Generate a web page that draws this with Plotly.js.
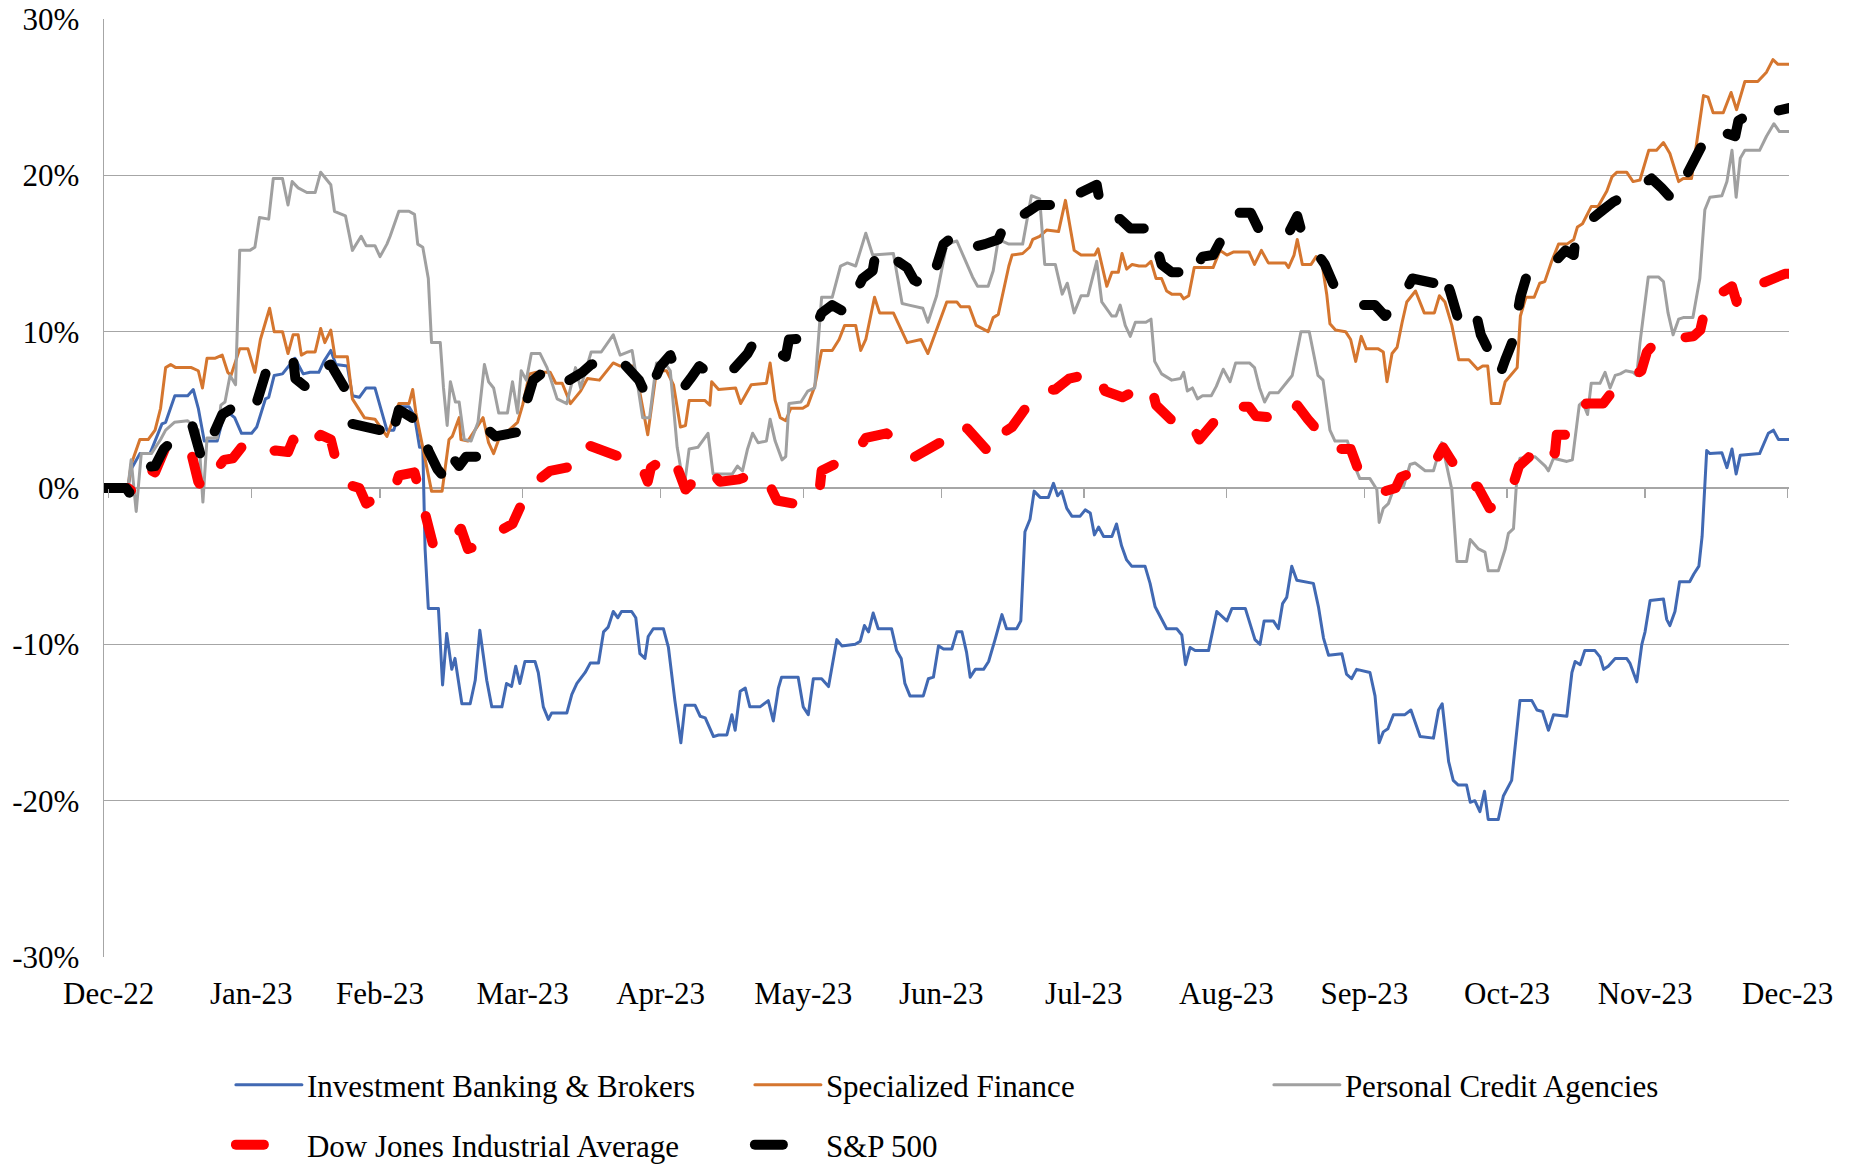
<!DOCTYPE html>
<html>
<head>
<meta charset="utf-8">
<script src="https://cdn.plot.ly/plotly-3.0.1.min.js"></script>
<style>
  html, body { margin: 0; padding: 0; background: #ffffff; }
  #chart { width: 1854px; height: 1164px; }
  .js-line { stroke-linecap: round; stroke-linejoin: round; }
</style>
</head>
<body>
<div id="chart"></div>
<script>
// ---- Data: [day offset from 30-Dec-2022, cumulative return %] ----
const IBB = [[0,0],[5.2,0],[5.9,1.2],[7.8,2.2],[10.0,2.2],[11.1,3.0],[12.6,4.1],[13.4,4.2],[15.4,5.9],[18.2,5.9],[19.4,6.3],[20.5,5.1],[21.8,3.0],[24.6,3.0],[26.1,4.7],[27.6,4.7],[28.4,4.5],[29.9,3.5],[32.1,3.5],[33.2,3.9],[35.1,5.7],[35.8,5.8],[37.0,7.2],[38.8,7.3],[41.5,8.3],[43.3,7.3],[44.8,7.4],[46.7,7.4],[47.8,8.1],[49.3,8.8],[50.4,7.9],[52.9,7.8],[54.0,5.9],[55.5,5.8],[57.0,6.4],[58.9,6.4],[61.5,3.7],[63.0,3.7],[64.5,5.2],[66.3,5.2],[67.5,4.6],[68.6,2.6],[69.3,2.6],[69.8,-3.9],[70.5,-7.7],[72.7,-7.7],[73.6,-12.6],[74.5,-9.3],[75.6,-11.6],[76.3,-10.9],[77.8,-13.8],[79.6,-13.8],[80.7,-12.3],[81.7,-9.1],[83.2,-12.3],[84.3,-14.0],[86.5,-14.0],[87.5,-12.5],[88.6,-12.7],[89.5,-11.4],[90.4,-12.5],[91.5,-11.1],[93.7,-11.1],[94.4,-11.8],[95.5,-14.0],[96.6,-14.8],[97.3,-14.4],[100.6,-14.4],[101.7,-13.2],[102.8,-12.5],[104.6,-11.8],[105.7,-11.2],[107.5,-11.2],[108.6,-9.2],[109.6,-8.9],[110.7,-7.9],[111.7,-8.3],[112.5,-7.9],[114.7,-7.9],[115.6,-8.3],[116.5,-10.6],[117.6,-10.9],[118.3,-9.5],[119.4,-9.0],[121.6,-9.0],[122.7,-10.2],[124.1,-13.6],[125.4,-16.3],[126.3,-13.9],[128.5,-13.9],[129.6,-14.6],[130.7,-14.7],[132.5,-15.9],[133.6,-15.8],[135.4,-15.8],[136.5,-14.5],[137.2,-15.5],[138.3,-13.0],[139.4,-12.8],[140.4,-14.0],[142.6,-14.0],[144.4,-13.6],[145.5,-14.9],[146.6,-12.8],[147.3,-12.1],[150.9,-12.1],[152.0,-14.0],[153.1,-14.5],[154.2,-12.2],[156.0,-12.2],[157.5,-12.7],[159.3,-9.7],[160.4,-10.1],[163.3,-10.0],[164.4,-9.8],[165.3,-8.8],[166.2,-9.2],[167.2,-8.0],[168.3,-9.0],[171.2,-9.0],[172.3,-10.4],[173.3,-10.9],[174.1,-12.5],[175.2,-13.3],[178.1,-13.3],[179.2,-12.2],[180.3,-12.1],[181.4,-10.1],[182.5,-10.3],[184.3,-10.3],[185.4,-9.2],[186.5,-9.2],[187.5,-10.5],[188.3,-12.1],[189.4,-11.6],[191.2,-11.6],[192.3,-11.1],[193.7,-9.7],[195.2,-8.1],[196.2,-9.0],[198.4,-9.0],[199.3,-8.5],[200.2,-2.8],[201.3,-2.0],[202.2,-0.2],[203.5,-0.6],[205.3,-0.6],[206.4,0.3],[207.3,-0.5],[208.2,-0.2],[209.3,-1.3],[210.4,-1.8],[212.2,-1.8],[213.3,-1.4],[214.4,-1.6],[215.3,-3.0],[216.2,-2.5],[217.3,-3.1],[219.1,-3.1],[220.1,-2.3],[221.2,-3.7],[222.3,-4.6],[223.4,-5.0],[226.3,-5.0],[227.4,-6.1],[228.5,-7.6],[231.0,-9.0],[233.2,-9.0],[234.3,-9.4],[235.1,-11.3],[236.1,-10.2],[237.2,-10.4],[240.1,-10.4],[241.9,-7.9],[244.1,-8.5],[245.2,-7.7],[248.1,-7.7],[250.2,-9.7],[251.3,-10.0],[252.2,-8.5],[254.2,-8.5],[255.3,-9.0],[256.2,-7.4],[257.1,-7.0],[258.2,-5.0],[259.3,-5.9],[262.9,-6.1],[264.0,-7.6],[265.1,-9.6],[266.2,-10.7],[269.1,-10.6],[270.1,-11.9],[271.2,-12.2],[272.3,-11.6],[275.2,-11.8],[276.3,-13.3],[277.2,-16.3],[278.1,-15.6],[279.1,-15.4],[280.3,-14.5],[282.8,-14.5],[284.1,-14.2],[286.1,-15.9],[289.0,-16.0],[290.1,-14.2],[290.9,-13.8],[292.3,-17.5],[293.3,-18.7],[294.4,-19.0],[296.2,-19.0],[297.0,-20.1],[298.0,-20.0],[299.1,-20.7],[300.1,-19.4],[300.9,-21.2],[303.1,-21.2],[304.2,-19.7],[306.0,-18.7],[307.8,-13.6],[310.4,-13.6],[311.5,-14.2],[312.7,-14.3],[314.0,-15.5],[315.1,-14.5],[318.0,-14.6],[319.1,-11.8],[319.8,-11.1],[320.9,-11.3],[321.9,-10.4],[324.1,-10.4],[325.2,-10.8],[326.0,-11.6],[327.0,-11.4],[328.5,-10.9],[331.0,-10.9],[331.7,-11.2],[333.2,-12.4],[334.3,-10.0],[335.0,-9.2],[336.1,-7.2],[339.0,-7.1],[339.7,-8.4],[340.4,-8.8],[341.5,-7.9],[342.5,-6.0],[344.7,-6.0],[345.6,-5.5],[346.7,-5.0],[347.4,-3.1],[348.4,2.4],[349.1,2.2],[351.7,2.25],[352.8,1.3],[353.9,2.5],[354.8,0.9],[355.7,2.1],[359.9,2.2],[361.8,3.5],[362.9,3.7],[364.0,3.1],[366.2,3.1]];

const SPF = [[0,0],[5.2,0],[5.9,1.5],[7.8,3.1],[9.6,3.1],[11.1,3.7],[12.3,5.1],[13.4,7.7],[14.5,7.9],[15.6,7.7],[19.0,7.7],[20.5,7.5],[21.4,6.4],[22.4,8.3],[24.2,8.3],[25.7,8.5],[26.9,7.4],[27.6,7.2],[29.5,8.9],[31.3,8.9],[32.8,7.4],[34.0,9.5],[36.0,11.5],[37.0,10.0],[38.8,10.0],[40.0,8.6],[41.1,9.8],[42.2,9.8],[42.9,8.5],[44.1,8.7],[45.9,8.7],[47.1,10.2],[48.0,9.3],[49.3,10.1],[50.2,8.4],[52.9,8.4],[54.0,5.7],[56.6,4.5],[58.9,4.4],[61.5,3.3],[64.1,5.4],[66.3,5.4],[67.1,6.3],[67.8,4.8],[71.2,-0.2],[73.5,-0.2],[75.0,3.1],[75.7,3.3],[77.2,4.5],[77.6,3.1],[79.1,3.0],[82.4,4.5],[83.6,2.9],[84.7,2.2],[85.8,3.1],[89.9,4.2],[91.0,5.3],[92.5,7.3],[94.0,7.4],[97.0,7.4],[98.2,6.7],[99.6,6.7],[101.4,5.4],[103.6,6.2],[105.1,7.0],[107.7,6.9],[110.7,8.0],[112.2,7.8],[114.8,7.8],[116.3,6.4],[118.2,3.4],[120.1,7.5],[122.3,7.5],[123.8,6.6],[125.3,3.9],[126.4,4.0],[127.2,5.6],[130.6,5.6],[131.7,5.3],[132.1,6.8],[133.6,6.3],[137.3,6.4],[138.4,5.4],[140.7,6.6],[144.0,6.7],[144.8,8.0],[145.9,5.6],[147.0,4.5],[148.2,4.3],[149.3,5.1],[151.9,5.1],[153.0,5.3],[154.5,6.5],[156.0,8.8],[158.3,8.8],[159.8,9.5],[161.0,10.4],[163.4,10.4],[164.5,8.8],[165.6,9.5],[167.5,12.2],[168.6,11.2],[171.6,11.2],[174.6,9.3],[177.6,9.5],[179.1,8.6],[181.7,10.7],[183.2,11.9],[185.4,11.9],[186.2,11.6],[188.1,11.6],[189.6,10.4],[192.2,10.0],[193.3,10.9],[194.4,11.1],[196.7,14.2],[197.4,14.9],[199.7,15.0],[201.2,15.4],[201.9,15.9],[203.4,16.1],[204.9,16.5],[207.5,16.4],[209.0,18.4],[210.9,15.2],[212.4,14.9],[215.4,14.9],[216.1,15.3],[218.0,12.9],[219.1,13.8],[220.5,13.8],[221.3,15.0],[222.3,14.0],[223.5,14.3],[225.0,14.2],[226.5,14.2],[227.6,14.5],[228.7,13.4],[229.9,13.4],[231.0,12.6],[232.1,12.4],[234.0,12.4],[234.7,12.1],[235.8,12.3],[237.0,14.1],[241.1,14.1],[242.6,15.2],[244.1,14.9],[245.6,15.1],[248.9,15.1],[250.1,14.3],[251.6,15.2],[253.1,14.4],[256.8,14.4],[257.5,14.1],[258.7,14.9],[259.4,15.9],[260.5,14.3],[262.4,14.3],[263.5,14.8],[264.7,14.5],[265.8,12.4],[266.5,10.5],[267.7,10.1],[269.9,10.0],[271.0,9.5],[272.1,8.1],[273.3,9.7],[274.4,8.9],[277.0,8.9],[278.1,8.7],[278.9,6.8],[280.0,8.6],[281.1,9.0],[282.2,10.6],[283.2,11.9],[285.1,12.6],[287.0,11.2],[289.2,11.2],[290.3,12.3],[291.5,11.9],[293.0,10.4],[294.5,8.2],[296.7,8.2],[298.6,7.6],[299.7,7.8],[300.8,7.8],[301.6,5.4],[303.4,5.4],[304.6,6.8],[307.2,7.7],[307.9,11.0],[309.1,12.2],[310.9,12.2],[312.1,13.1],[313.2,13.2],[314.7,14.5],[316.2,15.6],[318.0,15.6],[319.5,15.9],[320.3,16.7],[321.4,16.9],[323.3,18.0],[324.8,18.0],[326.7,19.0],[327.8,19.9],[328.9,20.2],[331.0,20.2],[332.4,19.6],[333.9,19.7],[335.8,21.6],[337.5,21.6],[339.0,22.1],[340.4,21.4],[342.3,19.6],[343.3,19.8],[345.1,19.8],[346.6,23.0],[347.7,25.1],[348.7,25.0],[349.8,24.0],[352.0,24.0],[353.7,25.3],[354.9,24.2],[356.7,26.0],[359.5,26.0],[361.4,26.6],[362.8,27.4],[363.9,27.1],[366.2,27.1]];

const PCA = [[0,0],[5.2,0],[5.9,1.8],[7.0,-1.5],[8.1,2.2],[10.3,2.2],[12.3,3.1],[13.4,3.7],[15.3,4.2],[18.2,4.3],[20.5,3.7],[21.5,-0.9],[22.4,3.2],[24.6,3.2],[25.4,5.3],[26.3,5.5],[27.4,7.2],[28.6,6.6],[29.5,15.2],[31.7,15.2],[32.8,15.4],[33.8,17.3],[35.8,17.2],[36.8,19.8],[38.8,19.8],[40.0,18.1],[40.9,19.6],[42.2,19.2],[44.1,18.9],[45.9,18.9],[47.1,20.2],[49.3,19.4],[50.1,17.7],[52.5,17.4],[54.0,15.2],[55.9,16.1],[57.0,15.5],[58.9,15.5],[60.0,14.8],[61.5,15.6],[62.2,16.1],[64.1,17.7],[66.3,17.7],[67.5,17.5],[68.2,15.6],[69.3,15.4],[70.5,13.4],[71.2,9.3],[73.1,9.3],[73.8,6.4],[74.6,4.0],[75.3,6.8],[76.4,5.5],[77.2,5.5],[78.3,3.1],[79.8,3.0],[81.3,4.2],[82.7,7.9],[83.6,6.8],[84.7,6.4],[85.8,4.8],[87.7,4.8],[88.8,6.8],[89.9,4.8],[90.7,7.5],[91.8,6.9],[92.9,8.6],[94.8,8.6],[96.3,7.7],[98.5,5.7],[100.6,5.4],[102.5,7.7],[103.6,6.4],[105.9,8.7],[108.1,8.7],[110.7,9.8],[112.2,8.5],[114.8,8.8],[115.9,6.8],[117.1,4.5],[118.6,4.5],[120.1,8.0],[121.9,8.0],[123.1,7.5],[124.6,2.6],[126.1,0.0],[127.2,2.5],[129.1,2.6],[131.3,3.5],[132.4,0.9],[136.6,0.9],[137.7,1.4],[138.8,1.1],[139.9,2.5],[141.0,3.5],[142.2,2.9],[144.0,3.0],[144.8,4.4],[145.9,3.0],[147.4,1.8],[148.2,2.0],[148.9,5.4],[151.5,5.5],[153.0,6.2],[154.5,6.4],[156.0,12.2],[158.3,12.2],[160.1,14.2],[161.6,14.4],[163.4,14.2],[165.6,16.3],[167.1,14.9],[171.6,15.0],[173.5,11.8],[175.0,11.7],[178.0,11.5],[179.1,10.6],[181.0,12.3],[183.2,15.6],[185.4,15.8],[188.8,13.5],[189.9,12.9],[192.2,12.9],[193.3,13.9],[194.4,15.9],[196.7,15.6],[199.7,15.6],[201.6,18.7],[203.4,18.5],[204.5,14.3],[206.8,14.3],[208.3,12.4],[209.4,13.1],[210.9,11.2],[212.4,12.3],[213.9,12.3],[215.8,14.5],[216.9,11.9],[219.1,11.0],[220.0,11.0],[220.9,11.7],[222.0,10.4],[223.1,9.7],[224.2,10.6],[226.5,10.6],[227.6,10.8],[228.4,8.1],[229.9,7.3],[232.1,6.9],[234.0,7.0],[234.7,7.4],[235.5,6.2],[236.6,6.4],[237.7,5.7],[238.8,5.9],[240.7,5.9],[241.8,6.5],[243.3,7.6],[244.8,6.8],[246.0,8.0],[249.0,8.0],[250.1,7.7],[251.2,6.4],[252.3,5.5],[253.4,6.1],[255.3,6.1],[257.2,6.8],[258.3,7.2],[260.2,10.0],[262.0,10.0],[263.9,7.2],[265.0,6.9],[266.5,3.7],[267.6,3.0],[270.3,3.0],[272.0,1.3],[273.0,0.6],[275.2,0.6],[276.7,-0.1],[277.2,-2.2],[278.1,-1.3],[279.2,-1.0],[280.3,-0.1],[282.5,0.1],[283.9,1.5],[285.0,1.6],[287.2,1.1],[289.0,1.1],[290.8,2.9],[293.0,-0.1],[294.1,-4.7],[296.2,-4.7],[297.0,-3.3],[298.8,-3.9],[300.2,-4.1],[300.9,-5.3],[303.1,-5.3],[304.6,-3.9],[305.3,-2.9],[306.4,-2.6],[307.1,0.5],[307.8,1.9],[311.1,2.0],[313.3,1.4],[314.0,1.1],[315.1,1.9],[318.0,1.7],[319.2,1.8],[320.7,5.3],[321.4,5.5],[322.5,4.7],[323.3,6.7],[325.2,6.7],[326.3,7.4],[327.4,6.4],[328.5,7.2],[329.6,7.3],[330.8,7.5],[332.4,7.4],[333.2,7.2],[333.9,9.3],[335.7,13.5],[337.9,13.5],[339.0,13.2],[340.0,11.2],[341.1,9.8],[342.3,10.8],[343.3,10.9],[345.4,10.9],[346.9,13.4],[348.0,17.8],[349.1,18.6],[351.7,18.7],[352.8,19.6],[353.9,21.6],[354.8,18.6],[355.7,21.1],[356.7,21.6],[359.9,21.6],[361.4,22.5],[363.0,23.3],[364.2,22.8],[366.2,22.8]];

const DJI = [[0,0],[5.2,0],[6.5,-0.3],[9.3,1.3],[11.1,1.0],[13.8,2.9],[16.5,2.8],[19.0,2.2],[20.5,0.4],[21.6,-0.1],[24.0,1.0],[26.1,1.8],[28.0,1.9],[29.9,2.6],[32.1,2.6],[32.5,2.2],[35.0,2.3],[37.3,2.4],[40.0,2.3],[41.1,3.1],[42.9,2.3],[45.0,2.8],[47.1,3.4],[49.3,3.1],[50.4,1.8],[53.3,0.2],[55.5,0.0],[57.0,-1.0],[60.0,-0.5],[63.0,-0.2],[64.1,0.8],[67.5,1.0],[70.1,-2.2],[71.6,-3.7],[74.2,-3.9],[77.6,-2.6],[79.1,-3.9],[81.3,-3.7],[83.2,-3.2],[85.8,-2.75],[88.8,-2.3],[92.5,0.1],[94.4,0.55],[97.0,1.1],[100.5,1.3],[103.6,1.7],[104.7,2.8],[108.5,2.3],[112.0,2.0],[116.3,1.8],[118.2,0.4],[118.9,1.3],[123.5,2.2],[126.4,-0.1],[131.3,1.3],[133.9,0.4],[138.0,0.55],[141.4,0.9],[143.7,0.8],[146.3,-0.8],[150.0,-1.0],[154.1,-0.8],[155.6,0.0],[156.0,1.1],[161.6,2.0],[163.4,2.2],[165.6,3.2],[170.1,3.5],[172.0,3.1],[173.5,2.4],[175.7,1.9],[181.7,2.9],[183.2,3.9],[187.7,3.8],[192.9,2.1],[194.8,3.4],[197.4,3.9],[203.0,6.2],[206.8,6.3],[209.8,7.0],[215.8,7.4],[217.6,6.2],[221.4,5.8],[223.5,6.2],[225.4,6.4],[227.6,6.6],[228.7,5.3],[234.7,3.6],[236.6,4.0],[238.1,3.1],[244.1,5.2],[248.9,5.2],[250.4,4.6],[257.9,4.4],[259.4,5.3],[261.7,4.4],[267.3,2.5],[271.0,2.5],[272.5,1.3],[278.5,-0.2],[280.8,0.0],[281.9,0.7],[283.7,0.9],[288.0,1.4],[289.6,1.8],[291.1,2.6],[292.6,1.9],[296.7,0.0],[298.6,0.1],[301.2,-1.3],[304.6,-0.7],[306.1,0.0],[307.6,1.4],[313.6,3.0],[315.4,2.2],[315.8,3.4],[318.0,3.4],[322.2,5.4],[325.9,5.4],[328.5,6.4],[334.2,7.5],[335.4,8.7],[337.5,9.4],[345.5,9.7],[347.0,10.1],[348.4,11.9],[353.9,12.9],[354.9,11.9],[355.3,12.7],[357.1,12.7],[365.4,13.7],[366.2,13.7]];

const SPX = [[0,0],[4.8,0],[5.5,-0.3],[7.8,1.3],[11.1,1.4],[13.0,2.5],[16.0,3.3],[19.0,4.2],[21.3,1.8],[24.2,3.6],[25.7,4.7],[28.4,5.2],[30.5,5.0],[32.5,4.8],[35.1,7.3],[36.6,7.8],[38.8,7.8],[41.1,8.3],[41.6,7.0],[43.7,6.5],[45.9,6.5],[47.4,7.7],[49.3,7.9],[51.0,7.0],[52.5,6.3],[54.0,4.1],[57.0,3.9],[60.0,3.7],[62.2,2.9],[64.1,5.0],[67.5,4.4],[69.3,4.1],[70.5,2.4],[72.5,1.2],[74.2,0.6],[75.3,2.1],[77.2,1.4],[78.7,2.0],[80.9,2.0],[82.8,3.9],[85.1,3.3],[88.0,3.5],[90.3,3.6],[90.7,4.4],[93.3,6.9],[95.9,7.5],[98.5,6.6],[100.0,6.7],[102.0,7.0],[104.0,7.4],[105.9,7.9],[108.1,8.0],[110.7,8.4],[113.5,7.8],[116.3,6.9],[118.2,5.7],[118.9,6.4],[121.0,7.8],[123.1,8.5],[125.7,6.3],[127.5,7.0],[129.4,7.8],[131.3,7.4],[132.8,7.8],[136.2,7.4],[138.0,8.0],[139.9,8.6],[141.4,9.4],[145.5,8.9],[148.2,8.4],[148.9,9.5],[153.8,9.6],[156.0,11.2],[158.3,11.7],[161.3,11.2],[163.0,12.3],[164.9,13.4],[167.1,13.9],[167.9,15.3],[171.0,14.8],[174.6,14.1],[176.1,13.3],[179.5,12.8],[182.5,15.6],[184.7,16.1],[186.9,16.2],[188.8,15.4],[191.5,15.6],[194.4,15.9],[196.7,17.5],[198.9,17.3],[201.0,17.7],[203.0,18.1],[206.8,18.1],[209.0,18.9],[210.9,18.7],[213.5,19.0],[215.8,19.4],[216.9,17.6],[218.8,17.2],[220.9,17.2],[223.1,16.6],[226.5,16.6],[227.6,16.7],[229.9,14.3],[232.1,13.8],[234.0,13.8],[235.1,14.6],[237.3,14.1],[238.8,14.8],[241.1,14.9],[242.2,15.4],[244.0,16.5],[245.9,17.6],[249.3,17.6],[251.6,16.2],[254.5,16.2],[257.5,16.3],[259.4,17.4],[260.5,16.2],[263.0,15.3],[265.4,14.3],[267.3,13.0],[269.5,12.4],[271.5,12.0],[273.3,11.7],[276.3,11.7],[278.5,11.0],[281.5,11.9],[282.8,12.5],[284.4,13.4],[286.8,13.2],[289.2,13.1],[290.7,14.0],[292.6,12.6],[295.2,10.0],[297.5,10.1],[298.6,10.7],[299.3,9.8],[301.5,8.5],[303.4,7.2],[304.6,8.2],[306.1,9.3],[307.9,12.2],[309.1,13.4],[312.1,13.9],[315.8,14.6],[317.7,15.2],[319.5,14.9],[319.9,16.1],[322.5,17.0],[325.9,17.8],[328.1,18.3],[331.3,18.8],[333.8,19.3],[336.4,19.8],[338.6,19.2],[341.1,18.4],[344.0,20.0],[347.0,21.6],[349.1,22.9],[350.6,22.9],[352.5,22.7],[354.6,22.5],[355.3,23.5],[357.1,23.8],[362.0,24.0],[365.4,24.3],[366.2,24.3]];

const seriesNames = ['Investment Banking & Brokers', 'Specialized Finance', 'Personal Credit Agencies', 'Dow Jones Industrial Average', 'S&P 500'];
const tickDates = ['2022-12-31','2023-01-31','2023-02-28','2023-03-31','2023-04-30','2023-05-31','2023-06-30','2023-07-31','2023-08-31','2023-09-30','2023-10-31','2023-11-30','2023-12-31'];
const tickLabels = ['Dec-22','Jan-23','Feb-23','Mar-23','Apr-23','May-23','Jun-23','Jul-23','Aug-23','Sep-23','Oct-23','Nov-23','Dec-23'];
const yTickVals = [-30, -20, -10, 0, 10, 20, 30];
const yTickLabels = ['-30%', '-20%', '-10%', '0%', '10%', '20%', '30%'];
const xRange = ['2022-12-30', '2023-12-31 07:00'];

// ---- helpers ----
const BASE = Date.UTC(2022, 11, 30);
function toDate(d) {
  const t = new Date(BASE + Math.round(d * 86400000));
  return t.toISOString().slice(0, 19).replace('T', ' ');
}
const GRID = '#A6A6A6';
const FONT = 'Liberation Serif, Times New Roman, serif';

function thin(series, name, color) {
  return {
    type: 'scatter', mode: 'lines', name: name,
    x: series.map(p => toDate(p[0])), y: series.map(p => p[1]),
    line: { color: color, width: 3 },
    legend: 'legend', hoverinfo: 'skip'
  };
}
function thick(series, name, color) {
  return {
    type: 'scatter', mode: 'lines', name: name,
    x: series.map(p => toDate(p[0])), y: series.map(p => p[1]),
    line: { color: color, width: 10, dash: '28px,38px' },
    legend: 'legend2', hoverinfo: 'skip'
  };
}

const traces = [
  thin(IBB, seriesNames[0], '#4169B3'),
  thin(SPF, seriesNames[1], '#D5762F'),
  thin(PCA, seriesNames[2], '#A0A0A0'),
  thick(DJI, seriesNames[3], '#FF0000'),
  thick(SPX, seriesNames[4], '#000000'),
  // carrier for the tick marks drawn on the 0% line
  { type: 'scatter', mode: 'lines', x: [tickDates[0]], y: [null], xaxis: 'x2', yaxis: 'y',
    showlegend: false, hoverinfo: 'skip' }
];

const legendCommon = {
  orientation: 'h', xanchor: 'left', yanchor: 'middle',
  entrywidth: 438, entrywidthmode: 'pixels', itemwidth: 66,
  font: { family: FONT, size: 31, color: '#000000' },
  bgcolor: 'rgba(0,0,0,0)', borderwidth: 0, traceorder: 'normal'
};

const layout = {
  width: 1854, height: 1164,
  margin: { l: 104, r: 65, t: 19, b: 207, autoexpand: false },
  paper_bgcolor: '#ffffff', plot_bgcolor: '#ffffff',
  font: { family: FONT, size: 31, color: '#000000' },
  showlegend: true,
  xaxis: {
    type: 'date', range: xRange, automargin: false,
    tickmode: 'array', tickvals: tickDates, ticktext: tickLabels,
    showgrid: false, zeroline: false, showline: false, ticks: '',
    ticklabelstandoff: 15,
    tickfont: { family: FONT, size: 31, color: '#000000' }
  },
  xaxis2: {
    type: 'date', overlaying: 'x', matches: 'x', anchor: 'free', position: 0.5,
    tickmode: 'array', tickvals: tickDates, showticklabels: false,
    ticks: 'outside', ticklen: 9, tickwidth: 1.4, tickcolor: GRID,
    showgrid: false, zeroline: false, showline: false
  },
  yaxis: {
    range: [-30, 30], tickmode: 'array', tickvals: yTickVals, ticktext: yTickLabels, automargin: false,
    showgrid: true, gridcolor: GRID, gridwidth: 1.4,
    zeroline: true, zerolinecolor: GRID, zerolinewidth: 1.4,
    showline: true, linecolor: GRID, linewidth: 1.4, ticks: '',
    ticklabelstandoff: 17,
    tickfont: { family: FONT, size: 31, color: '#000000' }
  },
  legend: Object.assign({}, legendCommon, { x: 0.0753, y: -0.1365 }),
  legend2: Object.assign({}, legendCommon, { x: 0.0753, y: -0.2004 })
};

Plotly.newPlot('chart', traces, layout, { displayModeBar: false, staticPlot: true });
</script>
</body>
</html>
